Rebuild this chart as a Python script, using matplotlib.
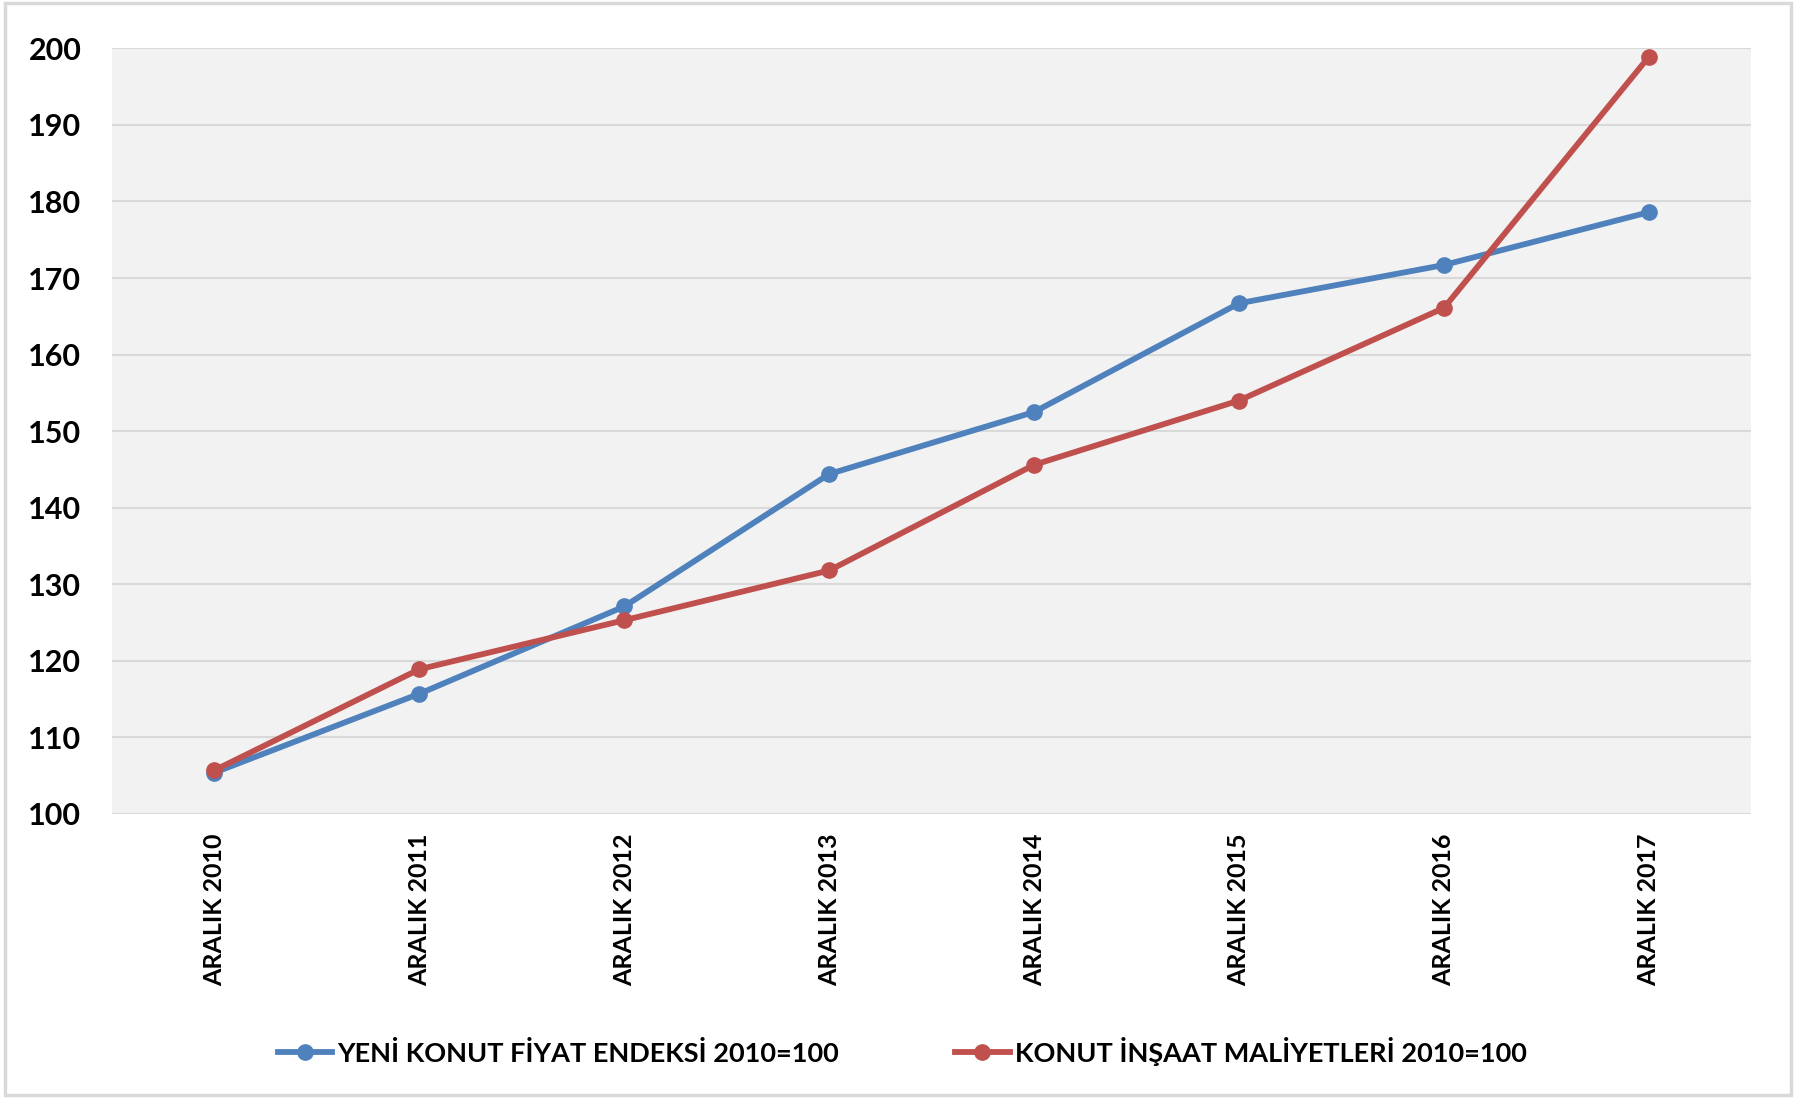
import matplotlib.pyplot as plt
from matplotlib.patches import Rectangle

years = ['ARALIK 2010', 'ARALIK 2011', 'ARALIK 2012', 'ARALIK 2013',
         'ARALIK 2014', 'ARALIK 2015', 'ARALIK 2016', 'ARALIK 2017']
yeni_konut = [105.4, 115.7, 127.1, 144.4, 152.5, 166.7, 171.7, 178.6]
insaat_maliyet = [105.7, 118.9, 125.3, 131.8, 145.6, 154.0, 166.1, 198.9]
labels = ['YENİ KONUT FİYAT ENDEKSİ 2010=100', 'KONUT İNŞAAT MALİYETLERİ 2010=100']

plt.rcParams['font.family'] = ['Lato', 'DejaVu Sans']
plt.rcParams['font.weight'] = 'bold'

fig = plt.figure(figsize=(18, 10.98), dpi=100)
# light grey frame around the whole chart
fig.patches.append(Rectangle((0.003, 0.003), 0.992, 0.994, transform=fig.transFigure,
                             fill=False, edgecolor='#d9d9d9', linewidth=2.5))
ax = fig.add_axes([0.0622, 0.2587, 0.9108, 0.6973])
ax.set_facecolor('#f2f2f2')

x = range(len(years))
ax.plot(x, yeni_konut, color='#4f81bd', lw=4.2, marker='o', ms=11, label=labels[0])
ax.plot(x, insaat_maliyet, color='#c0504d', lw=4.2, marker='o', ms=11, label=labels[1])

ax.set_xlim(-0.5, len(years) - 0.5)
ax.set_ylim(100, 200)
ax.set_yticks(range(100, 201, 10))
ax.set_xticks(list(x))
ax.set_xticklabels(years, rotation=90, fontsize=18, fontweight='bold')
ax.tick_params(axis='y', labelsize=22, length=0, pad=22)
ax.tick_params(axis='x', length=0, pad=14)
ax.grid(axis='y', color='#d9d9d9', lw=1.5)
ax.set_axisbelow(True)
for s in ax.spines.values():
    s.set_visible(False)

ax.legend(loc='center', bbox_to_anchor=(0.482, -0.31), ncol=2, frameon=False,
          handlelength=2.0, handletextpad=0.2, columnspacing=4.3,
          prop={'weight': 'bold', 'size': 19.5})

fig.savefig('out.png', dpi=100)
